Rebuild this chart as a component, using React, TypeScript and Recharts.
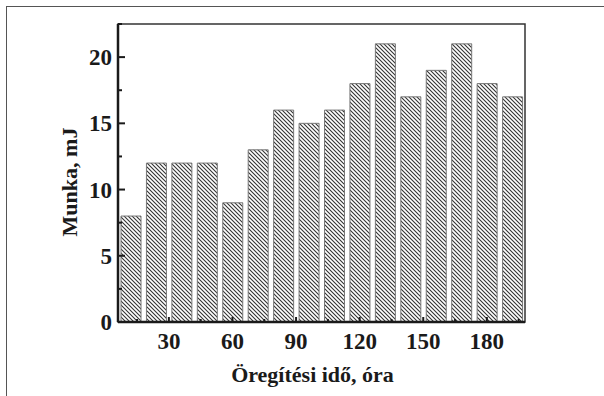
import React from "react";
import { BarChart, Bar, XAxis, YAxis, ReferenceArea, Label } from "recharts";

// aging time (hours) and the measured work (mJ)
const hours = [12, 24, 36, 48, 60, 72, 84, 96, 108, 120, 132, 144, 156, 168, 180, 192];
const work = [8, 12, 12, 12, 9, 13, 16, 15, 16, 18, 21, 17, 19, 21, 18, 17];

const xTicks = [15, 30, 45, 60, 75, 90, 105, 120, 135, 150, 165, 180, 195];
const xLabelled = [30, 60, 90, 120, 150, 180];
const yTicks = [0, 2.5, 5, 7.5, 10, 12.5, 15, 17.5, 20, 22.5];
const yLabelled = [0, 5, 10, 15, 20];

const data = hours.map((h, i) => ({ h, work: work[i] }));

const FONT = "'Liberation Serif', 'Times New Roman', serif";
const INK = "#1a1a1a";
const TICK_SIZE = 23;
const TITLE_SIZE = 22;

const X_MARGIN = 11;
const Y_MARGIN = 7;

// ticks point inwards; unlabelled ticks are the short minor ones
function XTick(props: any) {
  const { x, y, payload } = props;
  const axisY = y - X_MARGIN;
  const major = xLabelled.includes(payload.value);
  return (
    <g>
      <line x1={x} x2={x} y1={axisY} y2={axisY - (major ? 5 : 3)} stroke={INK} strokeWidth={2} />
      {major && (
        <text x={x} y={axisY + 27} textAnchor="middle" fontFamily={FONT} fontWeight="bold" fontSize={TICK_SIZE} fill={INK}>
          {payload.value}
        </text>
      )}
    </g>
  );
}

function YTick(props: any) {
  const { x, y, payload } = props;
  const axisX = x + Y_MARGIN;
  const major = yLabelled.includes(payload.value);
  return (
    <g>
      <line x1={axisX} x2={axisX + (major ? 7 : 4)} y1={y} y2={y} stroke={INK} strokeWidth={2} />
      {major && (
        <text x={axisX - 6} y={y + 8} textAnchor="end" fontFamily={FONT} fontWeight="bold" fontSize={TICK_SIZE} fill={INK}>
          {payload.value}
        </text>
      )}
    </g>
  );
}

function YTitle(props: any) {
  const { viewBox } = props;
  const cx = viewBox.x + 19;
  const cy = viewBox.y + viewBox.height / 2 + 9;
  return (
    <text
      x={cx}
      y={cy}
      transform={`rotate(-90 ${cx} ${cy})`}
      textAnchor="middle"
      fontFamily={FONT}
      fontWeight="bold"
      fontSize={TITLE_SIZE}
      fill={INK}
    >
      Munka, mJ
    </text>
  );
}

function XTitle(props: any) {
  const { viewBox } = props;
  return (
    <text
      x={viewBox.x + viewBox.width / 2 - 9}
      y={viewBox.y + 60}
      textAnchor="middle"
      fontFamily={FONT}
      fontWeight="bold"
      fontSize={TITLE_SIZE}
      fill={INK}
    >
      Öregítési idő, óra
    </text>
  );
}

export default function App() {
  return (
    <div style={{ position: "absolute", left: 0, top: 0, width: 604, height: 396, background: "#fff" }}>
      <div
        style={{
          position: "absolute",
          left: 6,
          top: 6,
          width: 598,
          height: 390,
          borderLeft: "1.5px solid #555",
          borderTop: "1.5px solid #555",
        }}
      />
      <div style={{ position: "absolute", left: 0, top: 0 }}>
        <BarChart width={604} height={396} data={data} margin={{ top: 24, right: 79, bottom: 14, left: 58 }}>
          <defs>
            <pattern id="hatch" width={4} height={4} patternUnits="userSpaceOnUse">
              <rect width={4} height={4} fill="#fff" />
              <path d="M0,0 L4,4 M-1,3 L1,5 M3,-1 L5,1" stroke="#333" strokeWidth={1.1} />
            </pattern>
          </defs>
          <XAxis
            dataKey="h"
            type="number"
            domain={[6, 198]}
            ticks={xTicks}
            interval={0}
            height={60}
            tickSize={0}
            tickMargin={X_MARGIN}
            tick={<XTick />}
            axisLine={{ stroke: INK, strokeWidth: 2.5 }}
          >
            <Label content={<XTitle />} />
          </XAxis>
          <YAxis
            type="number"
            domain={[0, 22.5]}
            ticks={yTicks}
            interval={0}
            width={60}
            tickSize={0}
            tickMargin={Y_MARGIN}
            tick={<YTick />}
            axisLine={{ stroke: INK, strokeWidth: 2.5 }}
          >
            <Label content={<YTitle />} />
          </YAxis>
          <Bar dataKey="work" barSize={20} fill="url(#hatch)" stroke="#777" strokeWidth={1} isAnimationActive={false} />
          <ReferenceArea x1={6} x2={198} y1={0} y2={22.5} fill="none" stroke="#333" strokeWidth={1.5} />
        </BarChart>
      </div>
    </div>
  );
}
